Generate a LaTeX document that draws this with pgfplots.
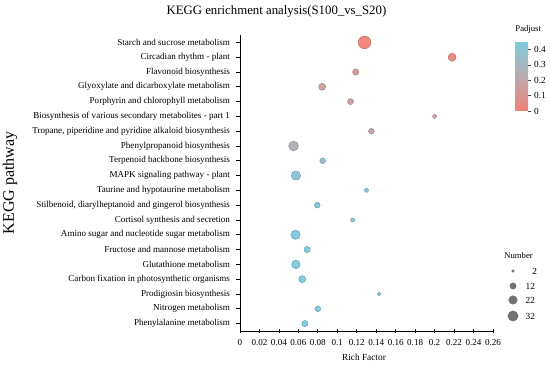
\documentclass[border=0pt]{standalone}
\usepackage{fontspec}
\setmainfont{Liberation Serif}
\usepackage{pgfplots}
\usepackage{pgfplotstable}
\pgfplotsset{compat=1.18}

\pgfplotstableread{
y x n p
0 0.128 49 0.01
1 0.218 19 0.03
2 0.119 12 0.14
3 0.0845 15 0.16
4 0.1136 11 0.17
5 0.200 5 0.18
6 0.135 10 0.19
7 0.055 29 0.27
8 0.085 10 0.36
9 0.0575 26 0.41
10 0.130 5 0.42
11 0.0794 10 0.43
12 0.1157 5 0.43
13 0.0571 26 0.44
14 0.069 12 0.44
15 0.0575 22 0.44
16 0.064 15 0.44
17 0.143 4 0.45
18 0.080 10 0.45
19 0.0667 12 0.45
}\data

\begin{document}
\begin{tikzpicture}
\path[use as bounding box] (-180pt,-26.25pt) rectangle (232.5pt,248.25pt);
\begin{axis}[
  at={(0pt,0pt)}, anchor=south west,
  scale only axis, width=189.75pt, height=222pt,
  xmin=0, xmax=0.26, ymin=-0.5, ymax=19.5, y dir=reverse,
  axis x line=bottom, axis y line=left,
  axis line style={-, line width=0.6pt},
  xtick={0,0.02,...,0.26},
  scaled x ticks=false,
  xticklabel style={/pgf/number format/fixed, /pgf/number format/precision=2, font=\fontsize{6.8}{8}\selectfont},
  /pgf/number format/assume math mode=true,
  ytick={0,...,19},
  yticklabels={Starch and sucrose metabolism, Circadian rhythm - plant, Flavonoid biosynthesis, Glyoxylate and dicarboxylate metabolism, Porphyrin and chlorophyll metabolism, Biosynthesis of various secondary metabolites - part 1, {Tropane, piperidine and pyridine alkaloid biosynthesis}, Phenylpropanoid biosynthesis, Terpenoid backbone biosynthesis, MAPK signaling pathway - plant, Taurine and hypotaurine metabolism, {Stilbenoid, diarylheptanoid and gingerol biosynthesis}, Cortisol synthesis and secretion, Amino sugar and nucleotide sugar metabolism, Fructose and mannose metabolism, Glutathione metabolism, Carbon fixation in photosynthetic organisms, Prodigiosin biosynthesis, Nitrogen metabolism, Phenylalanine metabolism},
  yticklabel style={font=\fontsize{6.8}{8}\selectfont},
  y tick label style={xshift=-1pt},
  x tick label style={yshift=-1pt},
  tick style={black, line width=0.6pt},
  major tick length=3pt,
  xtick align=center, ytick align=outside,
  xlabel={Rich Factor},
  xlabel style={font=\fontsize{7}{8}\selectfont, at={(axis description cs:0.49,-0.088)}, anchor=center},
  ylabel={KEGG pathway},
  ylabel style={font=\fontsize{12}{14}\selectfont, at={(axis description cs:-0.909,0.5)}, anchor=center},
  title={KEGG enrichment analysis(S100\_vs\_S20)},
  title style={font=\fontsize{9.6}{11}\selectfont, at={(axis description cs:0.144,1.078)}, anchor=center, yshift=0pt},
  every axis title shift=0pt,
  colormap={padj}{rgb255=(241,128,118) rgb255=(186,170,176) rgb255=(125,202,222)},
  point meta min=0, point meta max=0.45,
  colorbar,
  colorbar style={
    at={(parent axis.north east)}, anchor=north west,
    xshift=8pt, yshift=-5pt,
    scale only axis, width=9.75pt, height=52pt,
    axis line style={draw=none},
    ytick={0,0.1,0.2,0.3,0.4},
    yticklabel style={font=\fontsize{7}{8}\selectfont, /pgf/number format/fixed, /pgf/number format/precision=1, xshift=-1pt},
    /pgf/number format/assume math mode=true,
    ytick pos=right, ytick align=outside, major tick length=2pt,
    tick style={black!70, line width=0.4pt},
    title={Padjust},
    every axis title shift=0pt,
    title style={font=\fontsize{6.5}{7}\selectfont, at={(axis description cs:0.5,1)}, anchor=south, yshift=3pt, xshift=5pt},
  },
]
\addplot[scatter, only marks, mark=*, scatter src=explicit,
  fill opacity=0.95, draw opacity=0.95,
  visualization depends on={\thisrow{n} \as \cnt},
  scatter/@pre marker code/.append style={/tikz/mark size={0.675*sqrt(\cnt)}}]
  table[x=x, y=y, meta=p] {\data};
\end{axis}

\begin{axis}[
  at={(198.75pt,6.75pt)}, anchor=south west,
  scale only axis, width=30pt, height=54pt,
  xmin=0, xmax=40, ymin=0, ymax=72,
  hide axis,
  title={Number},
  every axis title shift=0pt,
  title style={font=\fontsize{6.5}{7}\selectfont, at={(axis description cs:0.34,0.925)}, anchor=center, yshift=0pt},
  nodes near coords={\pgfplotspointmeta},
  point meta=explicit symbolic,
  nodes near coords style={anchor=west, xshift=6pt, font=\fontsize{7}{8}\selectfont, text=black, opacity=1},
]
\addplot[only marks, mark=*, color=black!55, mark size=0.95pt, nodes near coords style={xshift=5pt}] coordinates {(8,51) [2]};
\addplot[only marks, mark=*, color=black!55, mark size=2.34pt] coordinates {(8,36) [12]};
\addplot[only marks, mark=*, color=black!55, mark size=3.17pt] coordinates {(8,22) [22]};
\addplot[only marks, mark=*, color=black!55, mark size=3.82pt] coordinates {(8,6) [32]};
\end{axis}
\end{tikzpicture}
\end{document}
